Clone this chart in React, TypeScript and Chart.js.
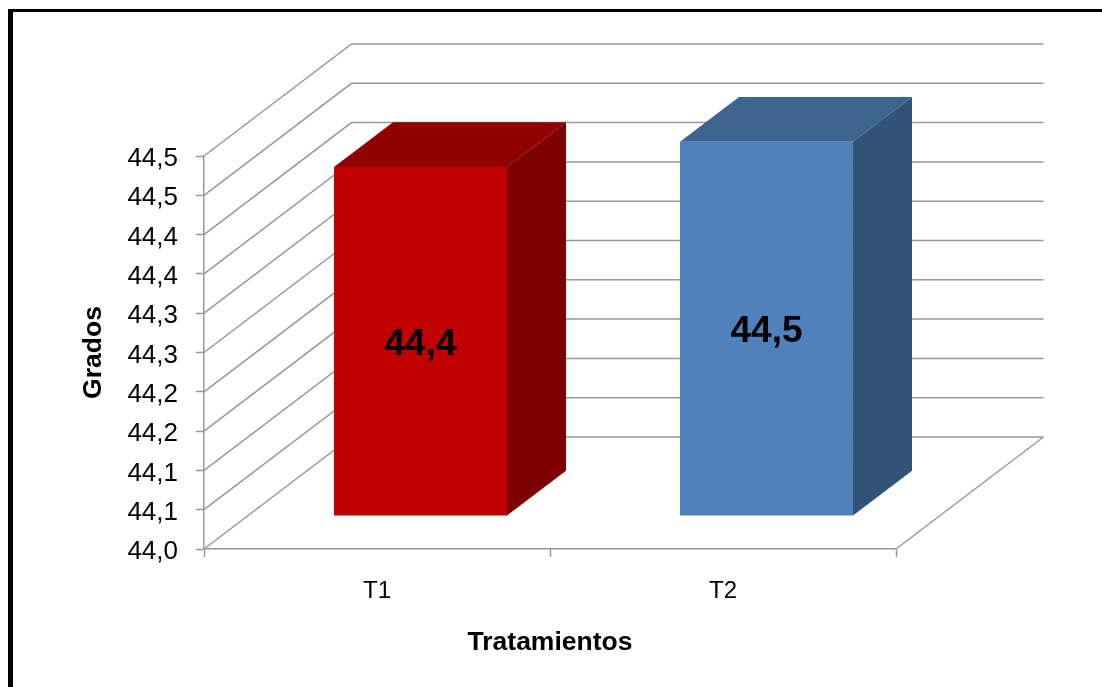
import React, { useEffect, useRef } from "react";
import { Chart, registerables } from "chart.js";

Chart.register(...registerables);

const categories = ["T1", "T2"];
const gradosValues = [44.444, 44.476];
const frontColors = ["#C00000", "#4F81BD"];
const topColors = ["#900000", "#3D648F"];
const sideColors = ["#7F0000", "#315378"];
const yTickLabels = ["44,0", "44,1", "44,1", "44,2", "44,2", "44,3", "44,3", "44,4", "44,4", "44,5", "44,5"];

const FONT = "'Liberation Sans', Arial, sans-serif";
const GRID = "#989898";

// Oblique projection of the chart's depth axis, in pixels.
const DEPTH_X = 147.5;
const DEPTH_Y = 112;
// Bars sit in the middle 40% of the depth.
const BAR_NEAR = 0.295;
const BAR_FAR = 0.695;

const poly = (ctx: CanvasRenderingContext2D, pts: number[][], color: string) => {
  ctx.fillStyle = color;
  ctx.beginPath();
  pts.forEach(([x, y], i) => (i ? ctx.lineTo(x, y) : ctx.moveTo(x, y)));
  ctx.closePath();
  ctx.fill();
};

const walls3d = {
  id: "walls3d",
  beforeDatasetsDraw(chart: any) {
    const { ctx, chartArea: a, scales } = chart;
    ctx.save();
    ctx.strokeStyle = GRID;
    ctx.lineWidth = 1.5;
    scales.y.ticks.forEach((t: any) => {
      const y = scales.y.getPixelForValue(t.value);
      ctx.beginPath();
      ctx.moveTo(a.left, y);
      ctx.lineTo(a.left + DEPTH_X, y - DEPTH_Y);
      ctx.lineTo(a.right + DEPTH_X, y - DEPTH_Y);
      ctx.stroke();
    });
    ctx.beginPath();
    ctx.moveTo(a.right, a.bottom);
    ctx.lineTo(a.right + DEPTH_X, a.bottom - DEPTH_Y);
    ctx.stroke();
    ctx.restore();
  },
};

const bars3d = {
  id: "bars3d",
  beforeDatasetDraw(chart: any, args: any) {
    const { ctx } = chart;
    const bars = chart.getDatasetMeta(args.index).data;
    ctx.save();
    bars.forEach((bar: any, i: number) => {
      const nx = DEPTH_X * BAR_NEAR;
      const ny = DEPTH_Y * BAR_NEAR;
      const dx = DEPTH_X * (BAR_FAR - BAR_NEAR);
      const dy = DEPTH_Y * (BAR_FAR - BAR_NEAR);
      const l = bar.x - bar.width / 2 + nx;
      const r = bar.x + bar.width / 2 + nx;
      const t = bar.y - ny;
      const b = bar.base - ny;
      poly(ctx, [[l, t], [l + dx, t - dy], [r + dx, t - dy], [r, t]], topColors[i]);
      poly(ctx, [[r, t], [r + dx, t - dy], [r + dx, b - dy], [r, b]], sideColors[i]);
      poly(ctx, [[l, t], [r, t], [r, b], [l, b]], frontColors[i]);
      ctx.fillStyle = "#000";
      ctx.font = `bold 37px ${FONT}`;
      ctx.textAlign = "center";
      ctx.textBaseline = "middle";
      ctx.fillText(gradosValues[i].toFixed(1).replace(".", ","), (l + r) / 2, (t + b) / 2 + 3.5);
    });
    ctx.restore();
    return false;
  },
};

export default function App() {
  const ref = useRef<HTMLCanvasElement>(null);
  useEffect(() => {
    const chart = new Chart(ref.current!, {
      type: "bar",
      data: {
        labels: categories,
        datasets: [
          {
            label: "Grados",
            data: gradosValues,
            base: 44,
            backgroundColor: frontColors,
            barPercentage: 0.5,
            categoryPercentage: 1,
          },
        ],
      },
      options: {
        responsive: false,
        animation: false,
        layout: { padding: { top: 156, right: 206, bottom: 0, left: 0 } },
        plugins: { legend: { display: false }, tooltip: { enabled: false } },
        scales: {
          x: {
            afterFit: (s: any) => {
              s.height = 138;
            },
            grid: { drawOnChartArea: false, color: GRID, tickColor: GRID, tickWidth: 1.5, tickLength: 8 },
            border: { color: GRID, width: 1.5 },
            ticks: { color: "#000", font: { family: FONT, size: 24 }, padding: 20 },
            title: {
              display: true,
              text: "Tratamientos",
              color: "#000",
              font: { family: FONT, size: 26.5, weight: "bold" },
              padding: { top: 30, bottom: 28 },
            },
          },
          y: {
            min: 44,
            max: 44.5,
            afterFit: (s: any) => {
              s.width = 204;
            },
            grid: { drawOnChartArea: false, color: GRID, tickColor: GRID, tickWidth: 1.5, tickLength: 8 },
            border: { color: GRID, width: 1.5 },
            ticks: {
              stepSize: 0.05,
              autoSkip: false,
              color: "#000",
              // The blank first line drops each label a little below its tick.
              font: { family: FONT, size: 26, lineHeight: "6px" },
              padding: 18,
              callback: (_v: any, i: number) => ["", yTickLabels[i]],
            },
            title: {
              display: true,
              text: "Grados",
              color: "#000",
              font: { family: FONT, size: 26.5, weight: "bold" },
              padding: { top: 78, bottom: 0 },
            },
          },
        },
      },
      plugins: [walls3d, bars3d],
    } as any);
    return () => chart.destroy();
  }, []);

  return (
    <div style={{ position: "fixed", inset: 0, width: 1102, height: 687, background: "#fff", overflow: "hidden" }}>
      <canvas ref={ref} width={1102} height={687} style={{ display: "block" }} />
      <div
        style={{
          position: "absolute",
          left: 8,
          top: 9,
          right: 0,
          bottom: 0,
          borderLeft: "5px solid #000",
          borderTop: "3px solid #000",
          pointerEvents: "none",
        }}
      />
    </div>
  );
}
